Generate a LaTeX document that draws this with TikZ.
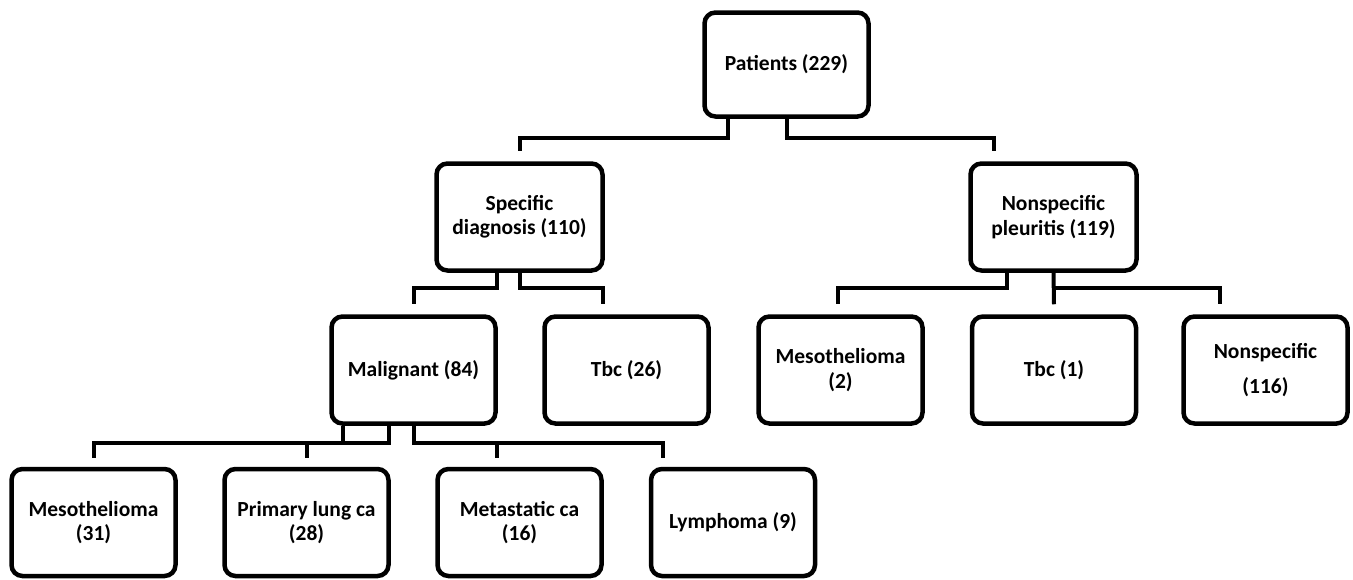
\documentclass[tikz,border=0pt]{standalone}
\usepackage{fontspec}
\setmainfont{Carlito}
\begin{document}
\begin{tikzpicture}[x=1pt,y=-1pt,
  box/.style={draw=black, line width=4.5pt, rounded corners=11pt, fill=white,
    minimum width=164pt, minimum height=107pt, align=center, inner sep=2pt,
    font=\fontsize{21.5}{24.5}\selectfont\bfseries},
  conn/.style={draw=black, line width=4pt}]
\useasboundingbox (0,0) rectangle (1353,579);
\fill[white] (0,0) rectangle (1353,579);
% nodes
\node[box, minimum height=104pt] (pat) at (786.5,64.5) {Patients (229)};
\node[box, minimum width=166pt] (spec) at (519.5,217) {Specific\\diagnosis (110)};
\node[box, minimum width=166pt] (nons) at (1053.5,217) {Nonspecific\\pleuritis (119)};
\node[box] (mal) at (413.5,370) {Malignant (84)};
\node[box] (tbcA) at (626.5,370) {Tbc (26)};
\node[box] (mesoB) at (840.5,370) {Mesothelioma\\(2)};
\node[box] (tbcB) at (1054,370) {Tbc (1)};
\node[box] (nsp) at (1265.5,370) {Nonspecific\\[10pt](116)};
\node[box] (mesoA) at (93.5,522.5) {Mesothelioma\\(31)};
\node[box] (prim) at (306.5,522.5) {Primary lung ca\\(28)};
\node[box] (meta) at (519.5,522.5) {Metastatic ca\\(16)};
\node[box] (lymph) at (733,522.5) {Lymphoma (9)};
% connectors from Patients
\draw[conn] ([xshift=-59pt]pat.south) -- ++(0,19) -| ([yshift=10pt]spec.north);
\draw[conn] (pat.south) -- ++(0,19) -| ([xshift=-59.5pt,yshift=10pt]nons.north);
% from Specific diagnosis
\draw[conn] ([xshift=-22.5pt]spec.south) -- ++(0,15) -| ([yshift=10pt]mal.north);
\draw[conn] (spec.south) -- ++(0,15) -| ([xshift=-23.5pt,yshift=10pt]tbcA.north);
% from Nonspecific pleuritis
\draw[conn] ([xshift=-46.5pt]nons.south) -- ++(0,15) -| ([xshift=-2.5pt,yshift=10pt]mesoB.north);
\draw[conn] (nons.south) -- ([yshift=10pt]tbcB.north);
\draw[conn] ([yshift=-15pt]nons.south) -| ([xshift=-45.5pt,yshift=10pt]nsp.north);
% from Malignant
\draw[conn] ([xshift=-70.5pt]mal.south) -- ++(0,17);
\draw[conn] ([xshift=-24.5pt]mal.south) -- ++(0,17) -| ([yshift=9pt]mesoA.north);
\draw[conn] ([yshift=9pt]prim.north) -- ++(0,-17);
\draw[conn] (mal.south) -- ++(0,17) -| ([xshift=-70pt,yshift=9pt]lymph.north);
\draw[conn] ([xshift=-22.5pt,yshift=9pt]meta.north) -- ++(0,-17);
\end{tikzpicture}
\end{document}
